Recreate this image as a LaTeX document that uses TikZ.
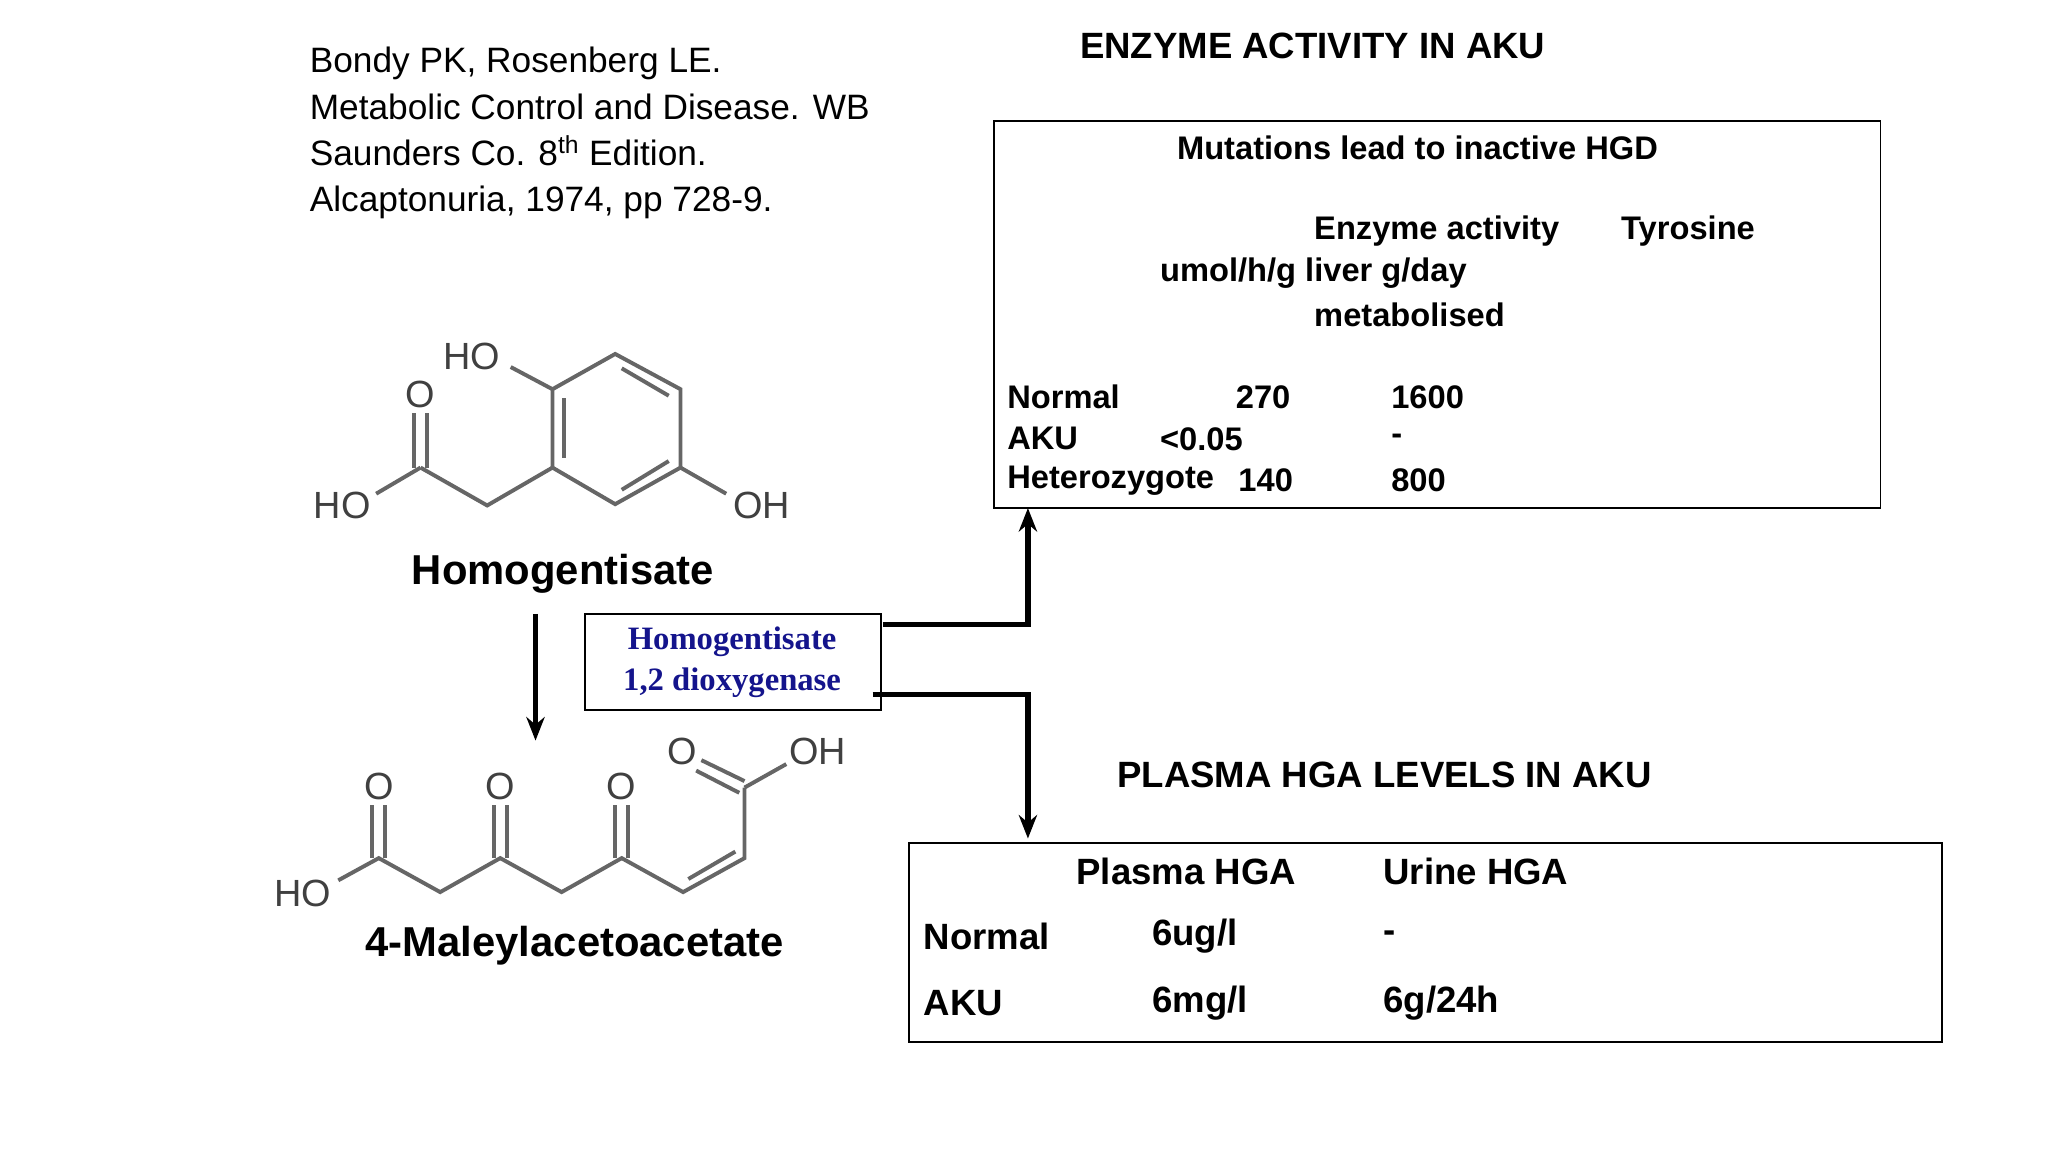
\documentclass[tikz,border=0pt]{standalone}
\usepackage{fontspec}
\setmainfont{Liberation Sans}
\newfontfamily\serifb{Liberation Serif}
\usetikzlibrary{arrows.meta}
\begin{document}
\begin{tikzpicture}[x=1pt,y=-1pt,
  t/.style={anchor=west,inner sep=0,font=\fontsize{27}{32}\selectfont},
  tb/.style={anchor=west,inner sep=0,font=\fontsize{25}{30}\selectfont\bfseries},
  tbb/.style={anchor=west,inner sep=0,font=\fontsize{28}{32}\selectfont\bfseries},
  hd/.style={anchor=center,inner sep=0,font=\fontsize{28}{32}\selectfont\bfseries},
  atm/.style={inner sep=0,font=\fontsize{29}{32}\selectfont,text=black!75},
  bond/.style={line width=3pt,draw=black!60},
  conn/.style={line width=4pt,-{Stealth[length=18pt,width=14pt]}},
  box/.style={draw,line width=1.5pt}]
\useasboundingbox (0,0) rectangle (1568,882);
% reference
\node[t,anchor=north west,align=left,font=\fontsize{27}{35.5}\selectfont] (ref) at (237,36)
 {Bondy PK, Rosenberg LE.\\Metabolic Control and Disease. WB\\Saunders Co. 8\textsuperscript{th} Edition.\\Alcaptonuria, 1974, pp 728-9.};
% headings
\node[hd] (h1) at (1005,35) {ENZYME ACTIVITY IN AKU};
\node[hd] (h2) at (1060,593) {PLASMA HGA LEVELS IN AKU};
% top box
\node[box,minimum width=679,minimum height=296,anchor=north west] (tbox) at (760,92) {};
\node[tb] (m) at (901,113) {Mutations lead to inactive HGD};
\node[tb] (c1) at (1006,177) {Enzyme activity};
\node[tb] (c2) at (1241,177) {Tyrosine};
\node[tb] (c3) at (888,209) {umol/h/g liver g/day};
\node[tb] (c4) at (1006,241) {metabolised};
\node[tb] (r1) at (771,304) {Normal};
\node[tb] (r1a) at (946,304) {270};
\node[tb] (r1b) at (1065,304) {1600};
\node[tb] (r2) at (771,336) {AKU};
\node[tb] (r2a) at (888,336) {<0.05};
\node[tb] (r2b) at (1065,336) {-};
\node[tb] (r3) at (771,368) {Heterozygote};
\node[tb] (r3a) at (948,368) {140};
\node[tb] (r3b) at (1065,368) {800};
% bottom box
\node[box,minimum width=791,minimum height=152,anchor=north west] (bbox) at (695,645) {};
\node[tbb] (p1) at (824,667) {Plasma HGA};
\node[tbb] (p2) at (1059,667) {Urine HGA};
\node[tbb] (q1) at (707,717) {Normal};
\node[tbb] (q1a) at (882,717) {6ug/l};
\node[tbb] (q1b) at (1059,717) {-};
\node[tbb] (q2) at (707,768) {AKU};
\node[tbb] (q2a) at (882,768) {6mg/l};
\node[tbb] (q2b) at (1059,768) {6g/24h};
% enzyme box
\node[box,minimum width=227,minimum height=74,anchor=north west] (enz) at (447,469) {};
\node[align=center,inner sep=0,font=\serifb\fontsize{25}{32}\selectfont\bfseries,text={rgb,255:red,20;green,20;blue,140}] (enzt) at (560.5,507) {Homogentisate\\1,2 dioxygenase};
% names
\node[hd,font=\fontsize{32}{36}\selectfont\bfseries] (hg) at (431,439) {Homogentisate};
\node[hd,font=\fontsize{32}{36}\selectfont\bfseries] (ma) at (440,724) {4-Maleylacetoacetate};
% connectors
\coordinate (a0) at (410,470);
\coordinate (a1) at (410,567);
\draw[conn] (a0) -- (a1);
\coordinate (e1) at (676,478);
\coordinate (e2) at (787,478);
\coordinate (e3) at (787,389);
\draw[conn] (e1) -- (e2) -- (e3);
\coordinate (f1) at (668,532);
\coordinate (f2) at (787,532);
\coordinate (f3) at (787,642);
\draw[conn] (f1) -- (f2) -- (f3);
% homogentisate structure
\draw[bond] (423,298) -- (471,271) -- (521,298) -- (521,358) -- (471,386) -- (423,358) -- cycle;
\draw[bond] (432,305) -- (432,351);
\draw[bond] (476,282) -- (512,303);
\draw[bond] (512,353) -- (476,375);
\draw[bond] (423,298) -- (391,281);
\draw[bond] (521,358) -- (556,378);
\draw[bond] (423,358) -- (373,387) -- (322,358);
\draw[bond] (322,358) -- (288,378);
\draw[bond] (317,358) -- (317,316);
\draw[bond] (327,358) -- (327,316);
\node[atm] (ho1) at (361,273) {HO};
\node[atm] (oh1) at (583,387) {OH};
\node[atm] (o1) at (322,302) {O};
\node[atm] (ho2) at (262,387) {HO};
% maleylacetoacetate
\draw[bond] (259,674) -- (290,657) -- (337,683) -- (383,657) -- (430,683) -- (476,657) -- (523,683) -- (570,657) -- (570,603);
\draw[bond] (527,673) -- (563,652);
\draw[bond] (285,657) -- (285,616); \draw[bond] (295,657) -- (295,616);
\draw[bond] (378,657) -- (378,616); \draw[bond] (388,657) -- (388,616);
\draw[bond] (471,657) -- (471,616); \draw[bond] (481,657) -- (481,616);
\draw[bond] (570,603) -- (602,585);
\draw[bond] (570,598) -- (537,582); \draw[bond] (566,607) -- (533,590);
\node[atm] (ho3) at (232,684) {HO};
\node[atm] (o2) at (290,602) {O};
\node[atm] (o3) at (383,602) {O};
\node[atm] (o4) at (476,602) {O};
\node[atm] (o5) at (522,575) {O};
\node[atm] (oh2) at (626,575) {OH};
\end{tikzpicture}
\end{document}
